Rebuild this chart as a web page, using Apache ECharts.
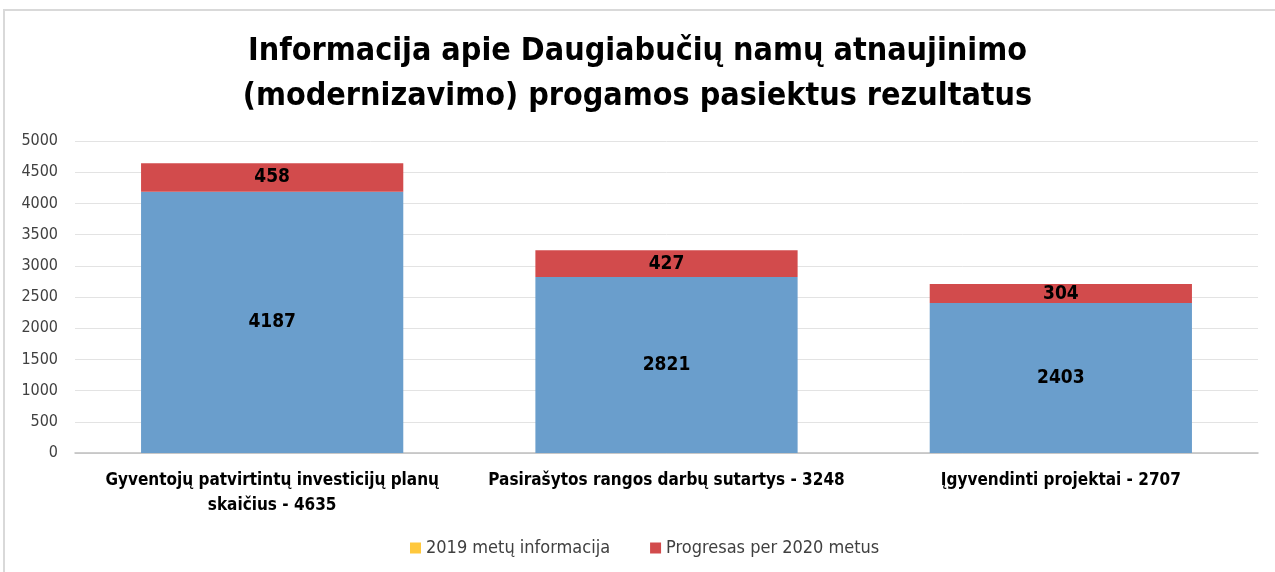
<!DOCTYPE html>
<html>
<head>
<meta charset="utf-8">
<script src="https://cdn.jsdelivr.net/npm/echarts@6/dist/echarts.min.js"></script>
<style>
  html, body { margin: 0; padding: 0; background: #fff; }
  #chart { width: 1275px; height: 572px; }
</style>
</head>
<body>
<div id="chart"></div>
<script>
// kategorijos ir reikšmės
const categories = [
  'Gyventojų patvirtintų investicijų planų\nskaičius - 4635',
  'Pasirašytos rangos darbų sutartys - 3248',
  'Įgyvendinti projektai - 2707'
]
const info2019 = [4187, 2821, 2403]
const progress2020 = [458, 427, 304]
const seriesNames = ['2019 metų informacija', 'Progresas per 2020 metus']

const font = '"DejaVu Sans Condensed", "DejaVu Sans", sans-serif'
const blue = '#6a9ecc'
const red = '#d24b4c'

const myChart = echarts.init(document.getElementById('chart'))
const option = {
  backgroundColor: '#fff',
  textStyle: { fontFamily: font },
  title: {
    text: 'Informacija apie Daugiabučių namų atnaujinimo\n(modernizavimo) progamos pasiektus rezultatus',
    left: 'center',
    top: 24,
    textStyle: {
      fontFamily: font,
      fontSize: 32,
      fontWeight: 'bold',
      color: '#000',
      lineHeight: 45
    }
  },
  graphic: [{
    type: 'rect',
    shape: { x: 4, y: 10, width: 1300, height: 600 },
    style: { fill: 'none', stroke: '#d9d9d9', lineWidth: 2 },
    silent: true
  }],
  legend: {
    data: seriesNames,
    bottom: 10,
    left: 405,
    itemWidth: 11,
    itemHeight: 11,
    itemGap: 40,
    icon: 'rect',
    textStyle: { fontFamily: font, fontSize: 18, color: '#404040' }
  },
  grid: {
    left: 75,
    right: 17,
    top: 141,
    bottom: 119
  },
  xAxis: {
    type: 'category',
    data: categories,
    axisTick: { show: false },
    axisLine: { show: true, lineStyle: { color: '#bfbfbf', width: 1.5 } },
    axisLabel: {
      interval: 0,
      margin: 15,
      fontFamily: font,
      fontSize: 17,
      fontWeight: 'bold',
      color: '#000',
      lineHeight: 25
    }
  },
  yAxis: {
    type: 'value',
    min: 0,
    max: 5000,
    interval: 500,
    axisLine: { show: false },
    axisTick: { show: false },
    splitLine: { lineStyle: { color: '#e3e3e3' } },
    axisLabel: {
      margin: 17,
      fontFamily: font,
      fontSize: 16,
      color: '#404040',
      formatter: v => String(v)
    }
  },
  series: [
    {
      name: seriesNames[0],
      type: 'bar',
      stack: 'total',
      barWidth: '66.5%',
      itemStyle: { color: '#ffc83d' }, // legendos spalva geltona
      data: info2019.map(v => ({ value: v, itemStyle: { color: blue } })),
      label: {
        show: true,
        position: 'inside',
        fontFamily: font,
        fontSize: 19,
        fontWeight: 'bold',
        color: '#000'
      }
    },
    {
      name: seriesNames[1],
      type: 'bar',
      stack: 'total',
      barWidth: '66.5%',
      itemStyle: { color: red },
      data: progress2020,
      label: {
        show: true,
        position: 'inside',
        fontFamily: font,
        fontSize: 19,
        fontWeight: 'bold',
        color: '#000'
      }
    }
  ]
}
myChart.setOption(option)
</script>
</body>
</html>
